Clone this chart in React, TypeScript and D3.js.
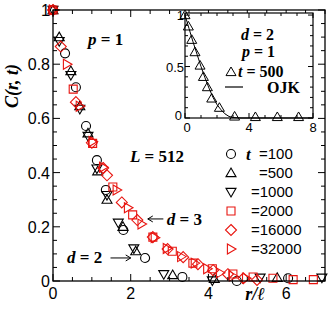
import * as d3 from 'd3'

const W = 332
const H = 312

// main panel data: [r/l, C(r,t)]
const T100 = [[0, 1], [0.31, 0.84], [0.59, 0.715], [0.85, 0.572], [1.13, 0.446], [1.36, 0.336], [1.81, 0.188], [2.37, 0.085], [3.33, 0.015], [4.73, 0.0], [6.05, 0.01]]
const T500 = [[0, 1], [0.16, 0.9], [0.46, 0.775], [0.69, 0.645], [0.9, 0.545], [1.15, 0.405], [1.39, 0.3], [1.8, 0.2], [2.13, 0.11], [3.08, 0.022], [4.15, 0.008], [5.77, 0.012]]
const T1000 = [[0, 1], [0.16, 0.885], [0.46, 0.76], [0.69, 0.635], [0.9, 0.535], [1.13, 0.415], [1.39, 0.317], [1.68, 0.215], [2.08, 0.12], [2.85, 0.025], [4.1, 0.002], [5.33, 0.012], [6.92, 0.012]]
const T2000 = [[0, 1], [0.52, 0.708], [1.02, 0.508], [1.54, 0.347], [2.05, 0.244], [2.57, 0.162], [3.07, 0.11], [3.6, 0.066], [4.1, 0.045], [4.63, 0.026], [5.15, 0.015], [5.66, 0.01], [6.18, 0.005], [6.7, 0.005]]
const T16000 = [[0, 1], [0.2, 0.865], [0.59, 0.66], [1.0, 0.51], [1.29, 0.417], [1.39, 0.39], [1.77, 0.29], [2.17, 0.225], [2.57, 0.162], [2.95, 0.118], [3.35, 0.088], [3.73, 0.062], [4.12, 0.04], [4.5, 0.025], [4.9, 0.01], [5.25, 0.004]]
const T32000 = [[0, 1], [0.36, 0.8], [0.69, 0.645], [1.02, 0.515], [1.29, 0.42], [1.64, 0.336], [1.93, 0.27], [2.28, 0.21], [2.62, 0.16], [2.93, 0.12], [3.3, 0.09], [3.65, 0.066], [3.97, 0.045], [4.3, 0.03], [4.63, 0.018], [4.97, 0.01]]

// inset data
const INSET_T500 = [[0, 1], [0.21, 0.89], [0.42, 0.76], [0.625, 0.64], [0.94, 0.51], [1.15, 0.4], [1.4, 0.3], [1.67, 0.19], [2.15, 0.1], [3.1, 0.015], [4.4, 0.01], [5.77, 0.01], [7.1, 0.01]]
const OJK = [[0, 1], [0.25, 0.87], [0.5, 0.74], [0.75, 0.62], [1, 0.5], [1.25, 0.39], [1.5, 0.29], [1.75, 0.2], [2, 0.13], [2.25, 0.08], [2.5, 0.04], [2.75, 0.015], [3, 0.005], [3.5, 0], [8, 0]]

const SERIES = [
  { label: '=100', data: T100, shape: 'circle', color: '#000' },
  { label: '=500', data: T500, shape: 'up', color: '#000' },
  { label: '=1000', data: T1000, shape: 'down', color: '#000' },
  { label: '=2000', data: T2000, shape: 'square', color: '#e8140f' },
  { label: '=16000', data: T16000, shape: 'diamond', color: '#e8140f' },
  { label: '=32000', data: T32000, shape: 'right', color: '#e8140f' },
]

const X_MAJOR = [0, 2, 4, 6]
const Y_MAJOR = [0, 0.2, 0.4, 0.6, 0.8, 1]
const Y_LABELS = ['0', '0.2', '0.4', '0.6', '0.8', '1']

const SANS = 'Liberation Sans, Arial, sans-serif'
const SERIF = 'Liberation Serif, Times New Roman, serif'

function markerPath(shape, x, y) {
  switch (shape) {
    case 'circle': {
      const r = 4.5
      return `M${x - r},${y}a${r},${r} 0 1,0 ${2 * r},0a${r},${r} 0 1,0 ${-2 * r},0Z`
    }
    case 'up':
      return `M${x},${y - 5}L${x + 5},${y + 3.6}L${x - 5},${y + 3.6}Z`
    case 'down':
      return `M${x},${y + 5}L${x + 5},${y - 3.6}L${x - 5},${y - 3.6}Z`
    case 'square':
      return `M${x - 4},${y - 4}h8v8h-8Z`
    case 'diamond':
      return `M${x},${y - 5.5}L${x + 5.5},${y}L${x},${y + 5.5}L${x - 5.5},${y}Z`
    case 'right':
      return `M${x + 5},${y}L${x - 3.6},${y - 5}L${x - 3.6},${y + 5}Z`
  }
  return ''
}

export default function App() {
  const x = d3.scaleLinear().domain([0, 7]).range([53, 325])
  const y = d3.scaleLinear().domain([0, 1]).range([281, 10])
  const [x0, x1] = x.range()
  const [y0, y1] = y.range()

  const xi = d3.scaleLinear().domain([0, 8]).range([185, 313])
  const yi = d3.scaleLinear().domain([0, 1.02]).range([118, 13])
  const [xi0, xi1] = xi.range()
  const [yi0, yi1] = yi.range()

  const xMinor = d3.range(0, 7.01, 0.5)
  const yMinor = d3.range(0, 1.001, 0.05)
  const xiMinor = d3.range(0, 8.01, 1)
  const yiMinor = d3.range(0, 1.001, 0.1)

  const ojkLine = d3.line().x(d => xi(d[0])).y(d => yi(d[1]))

  const ticks = []
  xMinor.forEach((v, i) => {
    const len = X_MAJOR.includes(v) ? 7 : 4
    ticks.push(<line key={'xb' + i} x1={x(v)} x2={x(v)} y1={y0} y2={y0 - len} />)
    ticks.push(<line key={'xt' + i} x1={x(v)} x2={x(v)} y1={y1} y2={y1 + len} />)
  })
  yMinor.forEach((v, i) => {
    const major = Y_MAJOR.some(m => Math.abs(m - v) < 1e-6)
    const len = major ? 7 : 4
    ticks.push(<line key={'yl' + i} x1={x0} x2={x0 + len} y1={y(v)} y2={y(v)} />)
    ticks.push(<line key={'yr' + i} x1={x1} x2={x1 - len} y1={y(v)} y2={y(v)} />)
  })

  const iticks = []
  xiMinor.forEach((v, i) => {
    const len = v % 4 === 0 ? 5 : 3
    iticks.push(<line key={'ixb' + i} x1={xi(v)} x2={xi(v)} y1={yi0} y2={yi0 - len} />)
    iticks.push(<line key={'ixt' + i} x1={xi(v)} x2={xi(v)} y1={yi1} y2={yi1 + len} />)
  })
  yiMinor.forEach((v, i) => {
    const major = Math.abs(v - 0.5) < 1e-6 || v < 1e-6 || Math.abs(v - 1) < 1e-6
    const len = major ? 5 : 3
    iticks.push(<line key={'iyl' + i} x1={xi0} x2={xi0 + len} y1={yi(v)} y2={yi(v)} />)
    iticks.push(<line key={'iyr' + i} x1={xi1} x2={xi1 - len} y1={yi(v)} y2={yi(v)} />)
  })

  return (
    <div style={{ position: 'fixed', left: 0, top: 0 }}>
      <svg width={W} height={H} style={{ display: 'block', background: '#fff' }}>
        {/* main data */}
        {SERIES.map(s => (
          <g key={s.label} fill="none" stroke={s.color} strokeWidth={1.1}>
            {s.data.map((d, i) => (
              <path key={i} d={markerPath(s.shape, x(d[0]), y(d[1]))} />
            ))}
          </g>
        ))}

        {/* frame + ticks */}
        <g stroke="#000" strokeWidth={1}>{ticks}</g>
        <rect x={x0} y={y1} width={x1 - x0} height={y0 - y1} fill="none" stroke="#000" strokeWidth={1.3} />

        {/* tick labels */}
        <g fontFamily={SANS} fontSize={16} fill="#000" textAnchor="end">
          {Y_MAJOR.map((v, i) => (
            <text key={v} x={x0 - 3} y={y(v) + 6}>{Y_LABELS[i]}</text>
          ))}
        </g>
        <g fontFamily={SANS} fontSize={16} fill="#000" textAnchor="middle">
          {X_MAJOR.map(v => (
            <text key={v} x={x(v)} y={y0 + 18}>{v}</text>
          ))}
        </g>

        {/* axis titles */}
        <text transform="translate(18,86) rotate(-90)" textAnchor="middle" fontFamily={SERIF} fontWeight="bold" fontStyle="italic" fontSize={18}>
          C(r, t)
        </text>
        <text x={255} y={300} textAnchor="middle" fontFamily={SERIF} fontWeight="bold" fontStyle="italic" fontSize={18}>
          r/ℓ
        </text>

        {/* annotations */}
        <text x={x(0.9)} y={y(0.87)} fontFamily={SERIF} fontWeight="bold" fontSize={17}>
          <tspan fontStyle="italic">p</tspan> = 1
        </text>
        <text x={x(1.98)} y={y(0.44)} fontFamily={SERIF} fontWeight="bold" fontSize={17}>
          <tspan fontStyle="italic">L</tspan> = 512
        </text>
        <text x={x(2.93)} y={y(0.205)} fontFamily={SERIF} fontWeight="bold" fontSize={17}>
          <tspan fontStyle="italic">d</tspan> = 3
        </text>
        <text x={x(0.36)} y={y(0.066)} fontFamily={SERIF} fontWeight="bold" fontSize={17}>
          <tspan fontStyle="italic">d</tspan> = 2
        </text>
        <g stroke="#000" strokeWidth={1} fill="none">
          <line x1={x(2.84)} x2={x(2.44)} y1={y(0.229)} y2={y(0.229)} />
          <path d={`M${x(2.44) + 5},${y(0.229) - 3}L${x(2.44)},${y(0.229)}L${x(2.44) + 5},${y(0.229) + 3}`} />
          <line x1={x(1.48)} x2={x(2.0)} y1={y(0.085)} y2={y(0.085)} />
          <path d={`M${x(2.0) - 5},${y(0.085) - 3}L${x(2.0)},${y(0.085)}L${x(2.0) - 5},${y(0.085) + 3}`} />
        </g>

        {/* legend */}
        {SERIES.map((s, i) => {
          const ly = 154 + i * 19
          return (
            <g key={'lg' + s.label}>
              <path d={markerPath(s.shape, 231, ly)} fill="none" stroke={s.color} strokeWidth={1.1} />
              {i === 0 && (
                <text x={246} y={ly + 6} fontFamily={SERIF} fontWeight="bold" fontStyle="italic" fontSize={17}>t</text>
              )}
              <text x={s.label.length > 4 ? 251 : 259} y={ly + 5} fontFamily={SANS} fontSize={15}>{s.label}</text>
            </g>
          )
        })}

        {/* inset */}
        <rect x={xi0} y={yi1} width={xi1 - xi0} height={yi0 - yi1} fill="#fff" />
        <path d={ojkLine(OJK)} fill="none" stroke="#000" strokeWidth={1} />
        <g fill="none" stroke="#000" strokeWidth={1}>
          {INSET_T500.map((d, i) => (
            <path key={i} d={markerPath('up', xi(d[0]), yi(d[1]))} />
          ))}
        </g>
        <g stroke="#000" strokeWidth={1}>{iticks}</g>
        <rect x={xi0} y={yi1} width={xi1 - xi0} height={yi0 - yi1} fill="none" stroke="#000" strokeWidth={1.2} />
        <g fontFamily={SANS} fontSize={13} fill="#000" textAnchor="end">
          <text x={xi0 - 1} y={yi(1) + 5}>1</text>
          <text x={xi0 - 1} y={yi(0.5) + 5}>0.5</text>
          <text x={xi0 - 3} y={yi(0) + 2}>0</text>
        </g>
        <g fontFamily={SANS} fontSize={13} fill="#000" textAnchor="middle">
          {[0, 4, 8].map(v => (
            <text key={v} x={xi(v) + (v === 0 ? 2 : 0)} y={yi0 + 14}>{v}</text>
          ))}
        </g>
        <g fontFamily={SERIF} fontWeight="bold" fontSize={16} fill="#000">
          <text x={241} y={40}><tspan fontStyle="italic">d</tspan> = 2</text>
          <text x={242} y={57}><tspan fontStyle="italic">p</tspan> = 1</text>
          <text x={238} y={77}><tspan fontStyle="italic">t</tspan> = 500</text>
          <text x={267} y={93}>OJK</text>
        </g>
        <path d={markerPath('up', 231, 72)} fill="none" stroke="#000" strokeWidth={1} />
        <line x1={225} x2={243} y1={87} y2={87} stroke="#000" strokeWidth={1.2} />
      </svg>
    </div>
  )
}
